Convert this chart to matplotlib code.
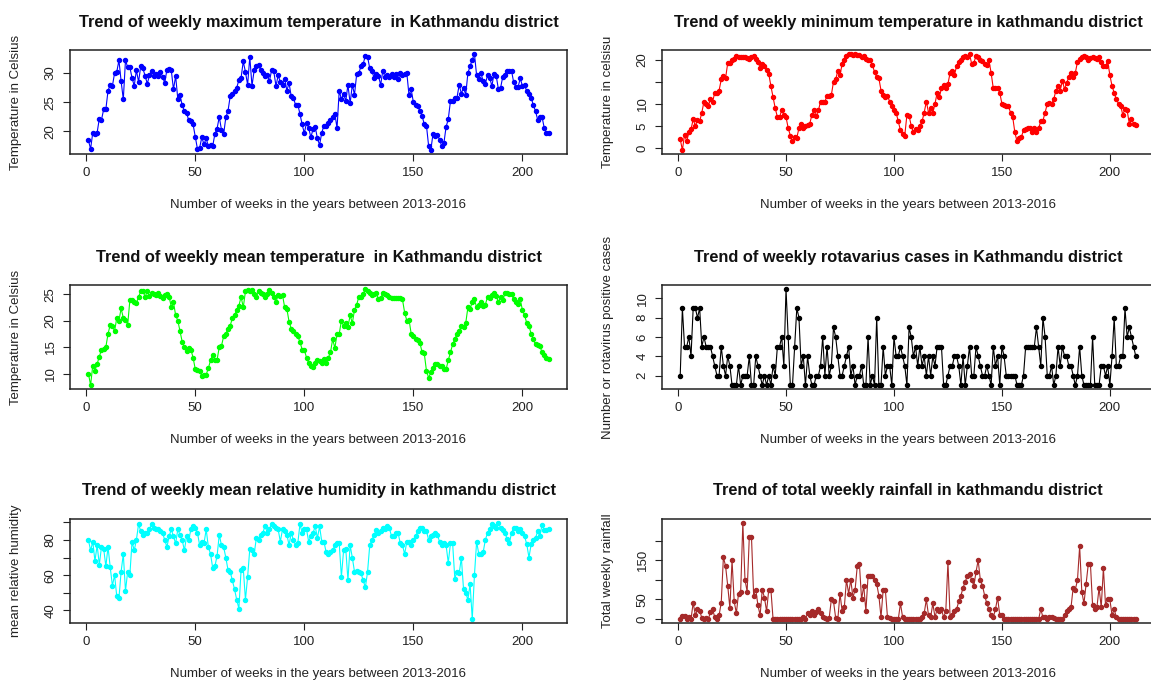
import numpy as np
import matplotlib
matplotlib.use("Agg")
import matplotlib.pyplot as plt

plt.rcParams['font.family'] = ['Liberation Sans', 'DejaVu Sans']

weeks = np.arange(1, 213)

max_temp = [
    18.5, 17.0, 19.8, 19.5, 19.8, 22.2, 22.0, 23.8, 23.8, 27.0,
    28.0, 27.8, 30.0, 30.2, 32.2, 28.6, 25.5, 32.2, 31.0, 31.0,
    29.2, 27.8, 30.5, 28.5, 31.2, 30.8, 29.5, 28.2, 29.6, 30.4,
    29.5, 29.8, 29.5, 30.2, 29.4, 28.3, 30.6, 30.7, 30.5, 27.2,
    29.5, 25.5, 26.2, 24.5, 23.5, 23.2, 21.9, 21.8, 21.2, 19.1,
    17.0, 17.2, 19.0, 17.8, 18.8, 17.5, 17.6, 17.5, 19.6, 20.5,
    22.5, 20.3, 19.5, 22.4, 23.5, 26.0, 26.5, 27.0, 27.5, 28.8,
    29.2, 32.0, 30.2, 28.0, 32.8, 27.8, 30.5, 31.3, 31.4, 30.5,
    30.0, 29.5, 29.6, 28.6, 30.5, 30.3, 27.8, 29.6, 28.5, 28.0,
    29.0, 27.0, 28.3, 26.0, 25.8, 24.5, 24.6, 23.0, 21.2, 19.7,
    21.5, 20.6, 19.0, 20.4, 20.8, 18.8, 17.7, 19.8, 21.0, 21.0,
    21.5, 22.0, 22.5, 23.0, 20.6, 27.0, 25.5, 26.5, 25.2, 28.0,
    24.8, 28.0, 26.3, 29.8, 30.0, 31.2, 31.6, 33.0, 32.8, 30.8,
    30.3, 29.2, 29.8, 29.5, 28.0, 30.4, 29.3, 29.6, 29.4, 29.8,
    29.3, 29.9, 29.0, 30.0, 29.6, 29.8, 30.0, 26.2, 27.2, 25.0,
    24.5, 24.3, 23.5, 22.7, 21.2, 21.0, 17.5, 16.8, 19.6, 19.3,
    19.4, 18.6, 17.5, 18.0, 20.8, 22.1, 25.2, 25.2, 25.8, 25.8,
    28.0, 26.5, 27.5, 26.3, 30.0, 31.2, 32.3, 33.3, 29.6, 29.0,
    30.0, 28.6, 28.2, 29.6, 29.2, 27.8, 29.9, 29.5, 27.2, 27.5,
    29.4, 29.7, 30.4, 30.4, 30.4, 28.4, 27.6, 27.6, 29.1, 27.8,
    27.9, 26.9, 26.4, 25.8, 24.5, 23.5, 22.0, 22.4, 22.5, 20.6,
    19.8, 19.8,
]

min_temp = [
    2.0, -0.5, 3.0, 1.5, 3.5, 4.2, 6.5, 5.0, 6.3, 6.0,
    8.0, 10.5, 10.0, 9.5, 11.0, 10.5, 12.5, 12.5, 13.0, 15.5,
    16.2, 15.8, 19.2, 19.2, 19.8, 20.2, 20.8, 20.5, 20.6, 20.6,
    20.6, 20.4, 20.2, 20.6, 20.8, 20.2, 19.5, 18.2, 19.0, 18.6,
    17.6, 16.8, 14.0, 11.5, 9.0, 7.0, 7.0, 8.5, 7.5, 7.0,
    4.5, 2.8, 1.5, 2.5, 2.3, 4.5, 5.5, 4.5, 5.0, 5.2,
    5.5, 7.5, 8.5, 7.2, 8.5, 10.5, 10.5, 10.5, 11.8, 11.8,
    12.0, 15.0, 15.5, 17.5, 16.5, 19.0, 20.0, 20.8, 21.2, 21.3,
    21.0, 21.2, 21.0, 21.1, 20.6, 20.8, 20.2, 20.0, 19.8, 18.8,
    17.2, 16.0, 15.8, 13.0, 12.0, 11.5, 11.8, 10.5, 9.5, 8.5,
    8.0, 6.0, 4.0, 3.2, 2.8, 7.5, 7.3, 5.0, 3.5, 4.2,
    4.0, 5.0, 6.0, 8.0, 10.5, 8.0, 9.0, 8.0, 10.0, 12.5,
    11.5, 13.5, 14.2, 13.5, 14.5, 17.0, 17.5, 16.5, 18.5, 19.5,
    20.0, 20.6, 20.8, 20.6, 21.3, 19.0, 19.3, 20.8, 20.5, 20.0,
    19.6, 19.0, 18.8, 19.8, 17.0, 13.5, 13.5, 13.5, 12.5, 10.0,
    9.8, 9.5, 9.5, 8.0, 7.0, 3.5, 1.5, 2.3, 2.5, 4.0,
    4.2, 4.5, 4.6, 3.7, 4.6, 3.5, 4.5, 6.0, 6.2, 8.0,
    10.0, 10.2, 10.0, 11.0, 13.0, 14.0, 13.0, 15.2, 13.3, 14.8,
    16.0, 17.0, 16.0, 17.0, 19.5, 20.2, 20.6, 20.8, 20.6, 20.0,
    20.3, 20.5, 20.3, 20.1, 20.5, 19.5, 18.5, 18.6, 19.6, 16.5,
    14.0, 12.5, 11.0, 10.0, 9.5, 7.5, 8.8, 8.5, 5.5, 6.5,
    5.5, 5.3,
]

mean_temp = [
    10.0, 7.8, 11.5, 10.5, 11.8, 13.2, 14.5, 14.6, 15.0, 17.5,
    19.2, 19.0, 18.0, 20.5, 20.0, 22.3, 20.5, 20.2, 19.2, 23.8,
    23.8, 23.5, 23.3, 24.5, 25.5, 25.6, 24.5, 25.5, 24.6, 25.3,
    25.0, 24.8, 25.2, 24.6, 24.2, 24.8, 25.0, 24.5, 22.6, 23.5,
    21.0, 20.0, 18.0, 16.0, 15.0, 14.3, 14.8, 14.5, 13.0, 10.8,
    10.6, 10.5, 9.5, 9.7, 9.8, 11.0, 12.5, 13.5, 12.5, 12.6,
    15.0, 15.2, 17.0, 17.5, 18.5, 19.0, 20.5, 21.0, 22.0, 22.8,
    24.5, 22.5, 25.5, 25.8, 25.5, 25.8, 25.0, 24.5, 25.5, 25.2,
    25.0, 24.5, 25.0, 25.8, 25.2, 24.5, 23.5, 24.8, 24.6, 24.8,
    22.5, 22.2, 19.8, 18.5, 18.0, 17.5, 17.0, 16.0, 14.5, 14.5,
    13.0, 12.0, 11.5, 11.3, 12.0, 12.5, 12.3, 12.0, 12.7, 12.0,
    13.0, 14.0, 16.5, 14.8, 17.5, 17.5, 20.0, 19.0, 19.5, 18.8,
    21.0, 19.5, 22.0, 23.0, 24.5, 24.5, 25.0, 26.0, 25.5, 25.2,
    24.8, 25.0, 25.2, 24.0, 24.2, 25.2, 25.0, 24.8, 24.5, 24.3,
    24.2, 24.2, 24.3, 24.2, 24.0, 21.5, 20.0, 20.2, 17.5, 17.0,
    16.5, 16.3, 15.8, 14.0, 13.8, 10.5, 9.2, 10.2, 11.0, 11.8,
    11.8, 11.5, 11.5, 10.8, 10.8, 12.5, 14.0, 15.5, 16.5, 17.5,
    18.0, 19.0, 18.8, 19.5, 22.5, 22.2, 23.5, 24.0, 22.5, 23.0,
    23.5, 22.8, 23.0, 24.5, 24.3, 24.8, 25.2, 24.7, 23.5, 24.5,
    23.8, 25.2, 25.2, 25.0, 25.0, 24.0, 23.5, 23.2, 24.0, 22.0,
    21.0, 19.5, 19.0, 17.5, 16.5, 15.5, 15.3, 15.2, 14.0, 13.5,
    13.0, 12.7,
]

rota_cases = [
    2, 9, 5, 5, 6, 4, 9, 9, 8, 9,
    5, 6, 5, 5, 5, 4, 3, 2, 2, 5,
    3, 2, 4, 3, 1, 1, 1, 3, 1, 2,
    2, 2, 4, 1, 1, 4, 3, 2, 1, 2,
    1, 2, 1, 3, 2, 5, 5, 6, 3, 11,
    6, 1, 1, 5, 9, 8, 3, 4, 1, 4,
    2, 1, 1, 2, 2, 3, 6, 2, 5, 2,
    3, 7, 6, 4, 2, 2, 3, 4, 5, 2,
    3, 1, 2, 2, 3, 1, 1, 6, 1, 2,
    1, 8, 1, 1, 5, 2, 3, 3, 1, 6,
    4, 4, 5, 4, 3, 1, 7, 6, 4, 5,
    3, 5, 3, 4, 2, 4, 2, 4, 3, 5,
    5, 5, 1, 1, 2, 3, 3, 4, 4, 3,
    1, 4, 1, 3, 5, 2, 2, 5, 4, 3,
    2, 2, 3, 2, 1, 5, 3, 4, 1, 5,
    4, 2, 2, 2, 2, 2, 1, 1, 1, 2,
    5, 5, 5, 5, 5, 7, 5, 3, 8, 6,
    2, 2, 3, 1, 2, 5, 3, 5, 4, 4,
    3, 3, 2, 1, 2, 5, 2, 1, 1, 1,
    1, 6, 1, 1, 1, 3, 3, 2, 3, 1,
    4, 8, 3, 3, 4, 4, 9, 6, 7, 6,
    5, 4,
]

humidity = [
    80, 74, 79, 68, 77, 66, 76, 75, 65, 76,
    64.5, 54, 60, 48, 47, 62, 72, 51, 62, 60,
    79, 74, 80, 89, 85, 83, 84, 84, 86, 89,
    87, 86, 86, 85, 84, 80, 76, 82, 86, 82,
    78, 86, 83, 80, 74, 82, 80, 86, 88, 87,
    84, 77, 79, 78, 86, 76, 72, 64, 65, 71,
    83, 77, 76, 70, 63, 62, 57, 52, 46, 41,
    63, 64, 46, 59, 75, 74, 72, 81, 80, 83,
    84, 88, 84, 86, 89, 88, 87, 86, 79, 86,
    85, 83, 77, 84, 80, 77, 78, 89, 84, 86,
    86, 79, 82, 84, 87.7, 81, 87.7, 79, 79, 73,
    72, 73, 74, 77, 78, 78, 59, 74, 75, 57,
    77, 70, 62, 62.6, 61.6, 61, 57, 53, 62, 77,
    80, 83, 85.5, 84, 85, 86.5, 86, 87.7, 86.8, 82,
    82, 84, 84, 78, 77, 72, 79, 79, 77, 80,
    82, 85, 87, 86.8, 85, 85, 80, 82, 83, 84,
    83, 79, 77, 78, 77, 67, 78, 78, 58, 62,
    61, 70, 52, 50, 46, 55, 35, 60, 79, 72,
    72, 73, 80, 84, 86, 89, 88, 87, 89.7, 86.8,
    85.5, 84, 80.5, 78, 84, 87, 86.8, 85, 86, 84,
    82, 77.5, 70, 77.5, 80, 81, 85, 82, 88.7, 85.8,
    85.8, 86,
]

rainfall = [
    0, 8, 8, 0, 5, 0, 42, 10, 25, 22,
    3, 0, 2, 0, 18, 25, 5, 0, 10, 42,
    158, 135, 85, 28, 150, 45, 15, 65, 70, 245,
    100, 70, 210, 210, 60, 75, 35, 10, 75, 55,
    20, 75, 75, 0, 0, 0, 0, 0, 0, 0,
    0, 0, 0, 0, 0, 0, 0, 5, 0, 15,
    10, 20, 10, 18, 25, 15, 5, 2, 0, 3,
    50, 45, 3, 0, 65, 20, 30, 100, 65, 100,
    55, 75, 135, 140, 50, 85, 20, 110, 110, 110,
    100, 90, 60, 5, 75, 75, 5, 2, 0, 0,
    0, 0, 40, 5, 0, 0, 0, 0, 0, 0,
    0, 0, 5, 15, 50, 10, 5, 40, 5, 25,
    20, 25, 5, 20, 145, 5, 10, 20, 25, 45,
    60, 80, 95, 110, 115, 100, 85, 120, 150, 100,
    85, 60, 40, 25, 10, 5, 25, 55, 10, 10,
    0, 0, 0, 0, 0, 0, 0, 0, 0, 0,
    0, 0, 0, 0, 0, 0, 0, 25, 5, 5,
    0, 5, 5, 3, 0, 0, 0, 0, 10, 20,
    25, 30, 80, 75, 100, 185, 70, 40, 90, 140,
    140, 35, 25, 30, 80, 30, 130, 35, 50, 50,
    10, 25, 5, 0, 0, 0, 0, 0, 0, 0,
    0, 0,
]

x_ticks = [0, 50, 100, 150, 200]
XLABEL = "Number of weeks in the years between 2013-2016"

W, H = 1151, 680
fig = plt.figure(figsize=(W / 100, H / 100), dpi=100)


def box(x0, top, w, h):
    return [x0 / W, (H - top - h) / H, w / W, h / H]


# (position, data, colour, title, ylabel, yticks, ytick labels)
panels = [
    (box(70, 50, 497, 104), max_temp, "#0000FF",
     "Trend of weekly maximum temperature  in Kathmandu district",
     "Temperature in Celsius", [20, 25, 30], ["20", "25", "30"]),
    (box(662, 50, 492, 104), min_temp, "#FF0000",
     "Trend of weekly minimum temperature in kathmandu district",
     "Temperature in celsisu", [0, 5, 10, 15, 20], ["0", "5", "10", "", "20"]),
    (box(70, 285, 497, 104), mean_temp, "#00FF00",
     "Trend of weekly mean temperature  in Kathmandu district",
     "Temperature in Celsius", [10, 15, 20, 25], ["10", "15", "20", "25"]),
    (box(662, 285, 492, 104), rota_cases, "#000000",
     "Trend of weekly rotavarius cases in Kathmandu district",
     "Number or rotavirus positive cases", [2, 4, 6, 8, 10], ["2", "4", "6", "8", "10"]),
    (box(70, 519, 497, 104), humidity, "#00FFFF",
     "Trend of weekly mean relative humidity in kathmandu district",
     "mean relative humidity", [40, 50, 60, 70, 80, 90], ["40", "", "60", "", "80", ""]),
    (box(662, 519, 492, 104), rainfall, "#A52A2A",
     "Trend of total weekly rainfall in kathmandu district",
     "Total weekly rainfall", [0, 50, 100, 150, 200], ["0", "50", "", "150", ""]),
]

for pos, vals, col, title, ylab, yt, ytl in panels:
    ax = fig.add_axes(pos)
    ax.plot(weeks, vals, '-', color=col, lw=0.8, marker='o', ms=2.9,
            mfc=col, mec=col)
    # R style 4% padding around the data range
    lo, hi = min(vals), max(vals)
    ax.set_ylim(lo - 0.04 * (hi - lo), hi + 0.04 * (hi - lo))
    ax.set_xlim(1 - 0.04 * 211, 212 + 0.04 * 211)
    ax.set_xticks(x_ticks)
    ax.set_yticks(yt)
    ax.set_yticklabels(ytl, rotation=90, va='center')
    ax.tick_params(direction='out', length=5, width=0.8, labelsize=9.5,
                   pad=4.5, colors='#222222')
    for s in ax.spines.values():
        s.set_linewidth(1.1)
        s.set_color('#222222')
    h_px = pos[3] * H
    ax.text(0.5, 1 + 28 / h_px, title, transform=ax.transAxes, ha='center',
            va='center', fontsize=11.8, fontweight='bold', color='#111111')
    ax.set_xlabel(XLABEL, fontsize=9.5, color='#222222')
    ax.xaxis.set_label_coords(0.5, -45 / h_px)
    ax.set_ylabel(ylab, fontsize=9.5, color='#222222')
    ax.yaxis.set_label_coords(-48 / (pos[2] * W), 0.5)

fig.savefig("out.png", dpi=100, facecolor='white')
